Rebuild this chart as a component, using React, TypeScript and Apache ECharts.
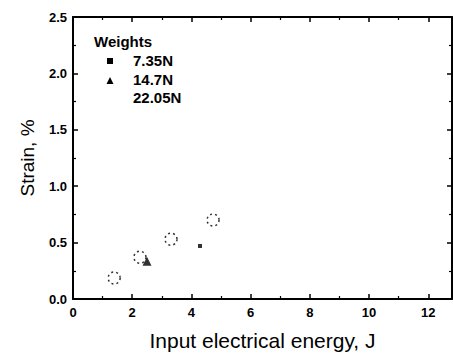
import React, { useEffect, useRef } from "react";
import * as echarts from "echarts";

const seriesNames = ["7.35N", "14.7N", "22.05N"];
const data735: number[][] = [[4.29, 0.47]];
const data147: number[][] = [[2.5, 0.335]];
const data2205: number[][] = [
  [1.39, 0.186],
  [2.26, 0.37],
  [3.31, 0.53],
  [4.73, 0.7],
];
const xName = "Input electrical energy, J";
const yName = "Strain, %";
const legendTitle = "Weights";

const FONT = "'Liberation Sans', Arial, sans-serif";

export default function App() {
  const ref = useRef<HTMLDivElement>(null);
  useEffect(() => {
    if (!ref.current) return;
    const chart = echarts.init(ref.current, null, { renderer: "svg" });
    const axisLine = { show: true, onZero: false, lineStyle: { color: "#000", width: 2 } };
    const tick = { show: true, inside: true, length: 5, lineStyle: { color: "#000", width: 1.5 } };
    const minor = { show: true, splitNumber: 2, length: 3, lineStyle: { color: "#000", width: 1.2 } };
    const label = {
      color: "#000",
      fontFamily: FONT,
      fontWeight: "bold" as const,
      fontSize: 13,
    };
    chart.setOption({
      animation: false,
      backgroundColor: "#fff",
      grid: { left: 73, top: 17, right: 1, bottom: 60, containLabel: false },
      xAxis: [
        {
          type: "value",
          position: "bottom",
          min: 0,
          max: 12.8,
          interval: 2,
          axisLine,
          axisTick: tick,
          minorTick: minor,
          splitLine: { show: false },
          axisLabel: { ...label, margin: 7, showMaxLabel: false },
          name: xName,
          nameLocation: "middle",
          nameGap: 31,
          nameTextStyle: { color: "#000", fontFamily: FONT, fontSize: 21 },
        },
        {
          type: "value",
          position: "top",
          min: 0,
          max: 12.8,
          interval: 2,
          axisLine,
          axisTick: tick,
          minorTick: minor,
          splitLine: { show: false },
          axisLabel: { show: false },
        },
      ],
      yAxis: [
        {
          type: "value",
          position: "left",
          min: 0,
          max: 2.5,
          interval: 0.5,
          axisLine,
          axisTick: tick,
          minorTick: minor,
          splitLine: { show: false },
          axisLabel: { ...label, margin: 6, formatter: (v: number) => v.toFixed(1) },
          name: yName,
          nameLocation: "middle",
          nameGap: 36,
          nameTextStyle: { color: "#000", fontFamily: FONT, fontSize: 19 },
        },
        {
          type: "value",
          position: "right",
          min: 0,
          max: 2.5,
          interval: 0.5,
          axisLine,
          axisTick: tick,
          minorTick: minor,
          splitLine: { show: false },
          axisLabel: { show: false },
        },
      ],
      series: [
        {
          name: seriesNames[0],
          type: "scatter",
          symbol: "rect",
          symbolSize: 4,
          itemStyle: { color: "#000" },
          data: data735,
        },
        {
          name: seriesNames[1],
          type: "scatter",
          symbol: "triangle",
          symbolSize: 9,
          itemStyle: { color: "#000" },
          data: data147,
        },
        {
          name: seriesNames[2],
          type: "scatter",
          symbol: "circle",
          symbolSize: 12,
          itemStyle: {
            color: "#fff",
            borderColor: "#000",
            borderWidth: 1.5,
            borderType: [2, 3],
          },
          data: data2205,
        },
      ],
      graphic: [
        {
          type: "text",
          left: 94,
          top: 34,
          style: { text: legendTitle, fill: "#000", font: `bold 15px ${FONT}` },
        },
        {
          type: "rect",
          shape: { x: 107, y: 58, width: 6, height: 6 },
          style: { fill: "#000" },
        },
        {
          type: "text",
          left: 133,
          top: 53,
          style: { text: seriesNames[0], fill: "#000", font: `bold 15px ${FONT}` },
        },
        {
          type: "polygon",
          shape: { points: [[110, 77], [106.5, 84], [113.5, 84]] },
          style: { fill: "#000" },
        },
        {
          type: "text",
          left: 133,
          top: 72,
          style: { text: seriesNames[1], fill: "#000", font: `bold 15px ${FONT}` },
        },
        {
          type: "text",
          left: 133,
          top: 90,
          style: { text: seriesNames[2], fill: "#000", font: `bold 15px ${FONT}` },
        },
      ],
    });
    return () => chart.dispose();
  }, []);
  return (
    <div
      ref={ref}
      style={{ position: "fixed", left: 0, top: 0, width: 453, height: 359 }}
    />
  );
}
